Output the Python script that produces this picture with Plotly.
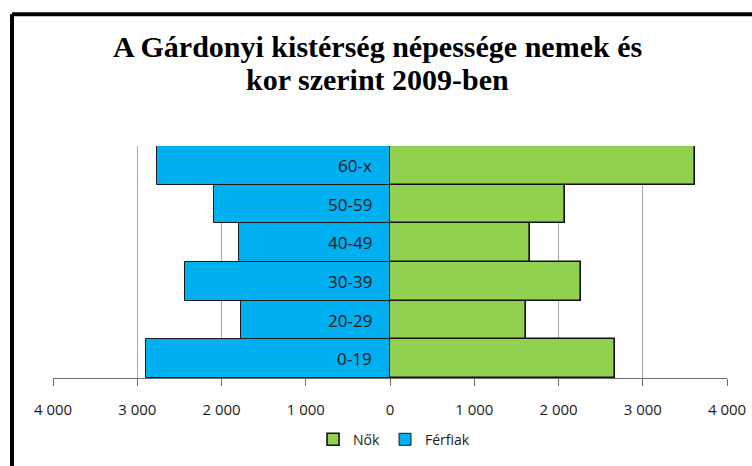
import plotly.graph_objects as go

categories = ["0-19", "20-29", "30-39", "40-49", "50-59", "60-x"]
nok = [2674, 1618, 2271, 1662, 2073, 3616]
ferfiak = [2893, 1773, 2438, 1797, 2089, 2762]
tick_vals = [-4000, -3000, -2000, -1000, 0, 1000, 2000, 3000, 4000]
tick_text = ["4 000", "3 000", "2 000", "1 000", "0", "1 000", "2 000", "3 000", "4 000"]
title_lines = ["A Gárdonyi kistérség népessége nemek és", "kor szerint 2009-ben"]

FONT = "Open Sans"

fig = go.Figure()
fig.add_trace(go.Bar(
    y=categories, x=nok, orientation="h", name="Nők",
    marker=dict(color="#92D050", line=dict(color="#111111", width=1.6)),
))
fig.add_trace(go.Bar(
    y=categories, x=[-v for v in ferfiak], orientation="h", name="Férfiak",
    marker=dict(color="#00B0F0", line=dict(color="#1a1a1a", width=1)),
))

for c in categories:
    fig.add_annotation(x=0, y=c, xref="x", yref="y", text=c, showarrow=False,
                       xanchor="right", xshift=-16,
                       font=dict(family=FONT, size=17, color="#1a1a1a"))

# title, two lines
for line, ypos in zip(title_lines, [1.4305, 1.288]):
    fig.add_annotation(x=0.481, y=ypos, xref="paper", yref="paper", text="<b>" + line + "</b>",
                       showarrow=False, xanchor="center", yanchor="middle",
                       font=dict(family="Liberation Serif", size=30, color="black"))

# outer frame (left and top black borders)
fig.add_shape(type="line", xref="paper", yref="paper", x0=-0.0608, x1=-0.0608, y0=-1, y1=1.568,
              line=dict(color="black", width=4))
fig.add_shape(type="line", xref="paper", yref="paper", x0=-0.0608, x1=1.3, y0=1.568, y1=1.568,
              line=dict(color="black", width=4))

fig.update_layout(
    width=752, height=466,
    margin=dict(l=53, r=25, t=146, b=88, autoexpand=False),
    paper_bgcolor="white", plot_bgcolor="white",
    barmode="relative", bargap=0,
    xaxis=dict(range=[-4000, 4000], tickvals=tick_vals, ticktext=tick_text,
               showgrid=True, gridcolor="#a8a8a8", gridwidth=1,
               zeroline=True, zerolinecolor="#111111", zerolinewidth=1.5,
               showline=True, linecolor="#6e6e6e", linewidth=1,
               ticks="outside", ticklen=7, tickcolor="#6e6e6e",
               ticklabelstandoff=11, automargin=False,
               tickfont=dict(family=FONT, size=15, color="#1a1a1a")),
    yaxis=dict(showticklabels=False, showgrid=False, zeroline=False, showline=False,
               range=[-0.5, 5.5], automargin=False),
    legend=dict(orientation="h", x=0.506, xanchor="center", y=-0.266, yanchor="middle",
                font=dict(family=FONT, size=14, color="#1a1a1a"), traceorder="normal",
                itemwidth=30),
    showlegend=True,
)

fig.write_html("out.html", config={"displayModeBar": False},
               post_script="document.body.style.margin='0';document.body.style.overflow='hidden';")
